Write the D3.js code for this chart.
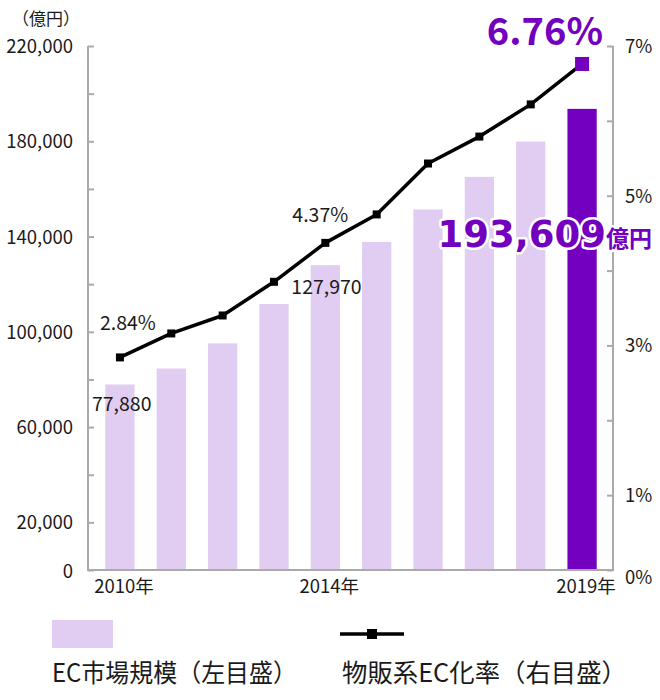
<!DOCTYPE html>
<html>
<head>
<meta charset="utf-8">
<script src="https://cdn.jsdelivr.net/npm/d3@7"></script>
<style>
  body { margin: 0; background: #fff; }
  text { font-family: "Noto Sans CJK JP", "Noto Sans", sans-serif; }
</style>
</head>
<body>
<script>
// data
const years = ["2010","2011","2012","2013","2014","2015","2016","2017","2018","2019"];
const marketSize = [77880, 84590, 95130, 111660, 127970, 137746, 151358, 165054, 179845, 193609];
const ecRate = [2.84, 3.16, 3.40, 3.85, 4.37, 4.75, 5.43, 5.79, 6.22, 6.76];
const leftTicks = [0, 20000, 40000, 60000, 80000, 100000, 120000, 140000, 160000, 180000, 200000, 220000];
const leftLabels = [0, 20000, 60000, 100000, 140000, 180000, 220000];
const rightTicks = [0, 1, 2, 3, 4, 5, 6, 7];
const rightLabels = [0, 1, 3, 5, 7];
const yearLabels = ["2010", "2014", "2019"];

// constants
const WIDTH = 660, HEIGHT = 700;
const LEFT = 88, RIGHT = 613, TOP = 46, BOTTOM = 570;
const LIGHT = "#e1cdf1", PURPLE = "#7200be", AXIS = "#aaaaaa", INK = "#1a1a1a";

const svg = d3.select("body").append("svg")
    .attr("width", WIDTH)
    .attr("height", HEIGHT);

// scales
const xScale = d3.scaleBand()
    .domain(years)
    .range([94, 608])
    .paddingInner(0.43)
    .paddingOuter(0.22);
const yLeft = d3.scaleLinear().domain([0, 220000]).range([BOTTOM, TOP]);
const yRight = d3.scaleLinear().domain([0, 7]).range([BOTTOM, TOP]);
const cx = y => xScale(y) + xScale.bandwidth() / 2;

// bars
svg.selectAll("rect.bar")
    .data(years)
    .enter()
    .append("rect")
    .attr("class", "bar")
    .attr("x", y => xScale(y))
    .attr("y", (y, i) => yLeft(marketSize[i]))
    .attr("width", xScale.bandwidth())
    .attr("height", (y, i) => BOTTOM - yLeft(marketSize[i]))
    .attr("fill", (y, i) => i === years.length - 1 ? PURPLE : LIGHT);

// left axis (ticks point inward)
const leftAxis = svg.append("g")
    .attr("transform", `translate(${LEFT},0)`)
    .call(d3.axisRight(yLeft).tickValues(leftTicks).tickSize(6).tickFormat(""));
// right axis
const rightAxis = svg.append("g")
    .attr("transform", `translate(${RIGHT},0)`)
    .call(d3.axisLeft(yRight).tickValues(rightTicks).tickSize(6).tickFormat(""));
[leftAxis, rightAxis].forEach(g => {
    g.select(".domain").remove();
    g.selectAll("line").attr("stroke", AXIS).attr("stroke-width", 2);
});
svg.append("path")
    .attr("d", `M${LEFT},${TOP}V${BOTTOM}H${RIGHT}V${TOP}`)
    .attr("fill", "none")
    .attr("stroke", AXIS)
    .attr("stroke-width", 2);

// left labels
svg.selectAll("text.yl")
    .data(leftLabels)
    .enter()
    .append("text")
    .attr("class", "yl")
    .attr("x", 73)
    .attr("y", v => v === 0 ? yLeft(v) + 8 : yLeft(v) + 7)
    .attr("text-anchor", "end")
    .attr("font-size", 18.5)
    .attr("fill", INK)
    .text(v => d3.format(",")(v));

// right labels
svg.selectAll("text.yr")
    .data(rightLabels)
    .enter()
    .append("text")
    .attr("class", "yr")
    .attr("x", 625)
    .attr("y", v => v === 0 ? yRight(v) + 14 : yRight(v) + 7)
    .attr("font-size", 18.5)
    .attr("fill", INK)
    .text(v => v + "%");

svg.append("text")
    .attr("x", 12).attr("y", 25)
    .attr("font-size", 17).attr("fill", INK)
    .text("（億円）");

// x labels
svg.selectAll("text.xl")
    .data(yearLabels)
    .enter()
    .append("text")
    .attr("class", "xl")
    .attr("x", y => cx(y) + 4)
    .attr("y", 593)
    .attr("text-anchor", "middle")
    .attr("font-size", 18.5)
    .attr("fill", INK)
    .text(y => y + "年");

// rate line
const line = d3.line()
    .x((d, i) => cx(years[i]))
    .y(d => yRight(d));
svg.append("path")
    .datum(ecRate)
    .attr("d", line)
    .attr("fill", "none")
    .attr("stroke", "#000")
    .attr("stroke-width", 3.5)
    .attr("stroke-linejoin", "round");

svg.selectAll("rect.mk")
    .data(ecRate)
    .enter()
    .append("rect")
    .attr("class", "mk")
    .attr("x", (d, i) => cx(years[i]) - (i === 9 ? 7 : 4))
    .attr("y", (d, i) => yRight(d) - (i === 9 ? 7 : 4))
    .attr("width", (d, i) => i === 9 ? 14 : 8)
    .attr("height", (d, i) => i === 9 ? 14 : 8)
    .attr("fill", (d, i) => i === 9 ? PURPLE : "#000");

// value labels
const small = [
    {t: d3.format(",")(marketSize[0]), x: cx(years[0]) - 28, y: 411},
    {t: ecRate[0].toFixed(2) + "%", x: cx(years[0]) - 20, y: 330},
    {t: d3.format(",")(marketSize[4]), x: cx(years[4]) - 34, y: 294},
    {t: ecRate[4].toFixed(2) + "%", x: cx(years[4]) - 33, y: 222}
];
svg.selectAll("text.vl")
    .data(small)
    .enter()
    .append("text")
    .attr("class", "vl")
    .attr("x", d => d.x)
    .attr("y", d => d.y)
    .attr("font-size", 19.5)
    .attr("fill", INK)
    .text(d => d.t);

svg.append("text")
    .attr("x", 603).attr("y", 45)
    .attr("text-anchor", "end")
    .attr("font-family", "DejaVu Sans")
    .attr("font-weight", "bold")
    .attr("font-size", 38)
    .attr("fill", PURPLE)
    .text(ecRate[9].toFixed(2) + "%");

const big = svg.append("text")
    .attr("x", 652).attr("y", 247)
    .attr("text-anchor", "end")
    .attr("font-weight", "bold")
    .attr("fill", PURPLE)
    .attr("stroke", "#fff")
    .attr("stroke-width", 5)
    .attr("paint-order", "stroke")
    .attr("stroke-linejoin", "round");
big.append("tspan")
    .attr("font-family", "DejaVu Sans")
    .attr("font-size", 37)
    .text(d3.format(",")(marketSize[9]));
big.append("tspan")
    .attr("font-size", 23)
    .text("億円");

// legend
svg.append("rect")
    .attr("x", 52).attr("y", 620)
    .attr("width", 61).attr("height", 28)
    .attr("fill", LIGHT);
svg.append("line")
    .attr("x1", 340).attr("x2", 404)
    .attr("y1", 634).attr("y2", 634)
    .attr("stroke", "#000").attr("stroke-width", 3.5);
svg.append("rect")
    .attr("x", 367).attr("y", 629)
    .attr("width", 10).attr("height", 10)
    .attr("fill", "#000");
svg.append("text")
    .attr("x", 52).attr("y", 682)
    .attr("font-size", 25).attr("fill", INK)
    .attr("textLength", 245).attr("lengthAdjust", "spacingAndGlyphs")
    .text("EC市場規模（左目盛）");
svg.append("text")
    .attr("x", 342).attr("y", 682)
    .attr("font-size", 25).attr("fill", INK)
    .attr("textLength", 285).attr("lengthAdjust", "spacingAndGlyphs")
    .text("物販系EC化率（右目盛）");
</script>
</body>
</html>
